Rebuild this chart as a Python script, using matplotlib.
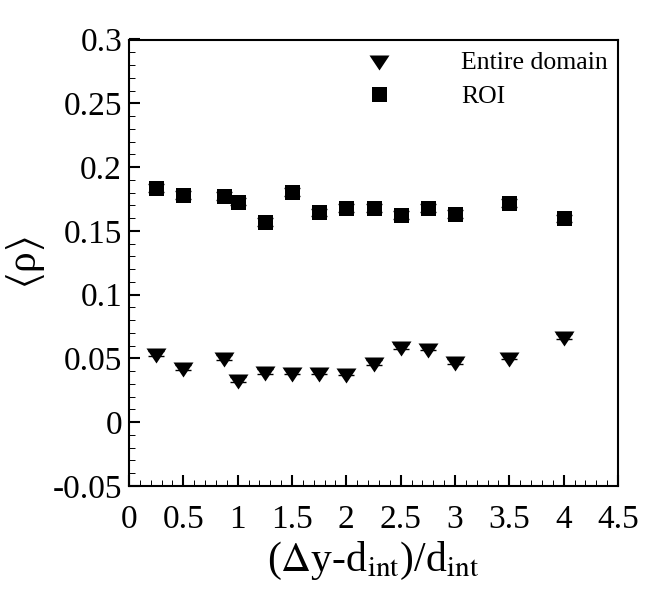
import matplotlib
matplotlib.use("Agg")
import matplotlib.pyplot as plt
from matplotlib.ticker import MultipleLocator, FuncFormatter

plt.rcParams['font.family'] = ['Liberation Serif', 'DejaVu Serif']
plt.rcParams['mathtext.fontset'] = 'stix'
plt.rcParams['axes.unicode_minus'] = False

# Data
x_vals = [0.25, 0.5, 0.875, 1.0, 1.25, 1.5, 1.75, 2.0, 2.25, 2.5, 2.75, 3.0, 3.5, 4.0]
entire_domain = [0.054, 0.043, 0.051, 0.0335, 0.040, 0.0395, 0.0395, 0.0387,
                 0.047, 0.0594, 0.0583, 0.0476, 0.0514, 0.0674]
entire_err = [0.002] * 14
roi = [0.1834, 0.178, 0.1773, 0.1729, 0.1567, 0.1807, 0.1645, 0.1677,
       0.1677, 0.1624, 0.1677, 0.1632, 0.1716, 0.1598]
roi_err = [0.003] * 14
legend_labels = ["Entire domain", "ROI"]

W, H = 664, 591
fig = plt.figure(figsize=(W / 100, H / 100), dpi=100)
ax = fig.add_axes([129 / W, (H - 486) / H, 489 / W, 446.5 / H])

tri = [(-1, 0.5), (1, 0.5), (0, -1)]

ax.errorbar(x_vals, entire_domain, yerr=entire_err, fmt='none', ecolor='black',
            elinewidth=1.0, capsize=6, capthick=1.0, zorder=2)
ax.plot(x_vals, entire_domain, linestyle='none', marker=tri, markersize=14.4,
        color='black', markeredgewidth=0, label=legend_labels[0], zorder=3)
ax.errorbar(x_vals, roi, yerr=roi_err, fmt='none', ecolor='black',
            elinewidth=1.0, capsize=6, capthick=1.0, zorder=2)
ax.plot(x_vals, roi, linestyle='none', marker='s', markersize=10.8,
        color='black', markeredgewidth=0, label=legend_labels[1], zorder=3)

ax.set_xlim(0, 4.5)
ax.set_ylim(-0.05, 0.3)
ax.xaxis.set_major_locator(MultipleLocator(0.5))
ax.xaxis.set_minor_locator(MultipleLocator(0.1))
ax.yaxis.set_major_locator(MultipleLocator(0.05))
ax.yaxis.set_minor_locator(MultipleLocator(0.01))
fmt = FuncFormatter(lambda v, p: ('%g' % round(v, 4)))
ax.xaxis.set_major_formatter(fmt)
ax.yaxis.set_major_formatter(fmt)

ax.tick_params(which='both', direction='in', top=False, right=False, labelsize=24)
ax.tick_params(which='major', length=8, width=1.5)
ax.tick_params(which='minor', length=4.5, width=0.7)
ax.tick_params(axis='y', which='major', pad=5)
ax.tick_params(axis='x', which='major', pad=13)
for s in ax.spines.values():
    s.set_linewidth(1.5)

ax.set_xlabel(r'($\Delta$y-d$_{\mathrm{int}}$)/d$_{\mathrm{int}}$', fontsize=30, labelpad=4)
ax.set_ylabel(r'$\langle$ρ$\rangle$', fontsize=30, labelpad=4)

ax.legend(loc='upper right', bbox_to_anchor=((608 - 129) / 489, (486 - 51) / 446.5),
          frameon=False, fontsize=18.5, handlelength=1.0, handletextpad=2.7,
          labelspacing=0.42, borderpad=0, borderaxespad=0)

fig.savefig('out.png', dpi=100)
